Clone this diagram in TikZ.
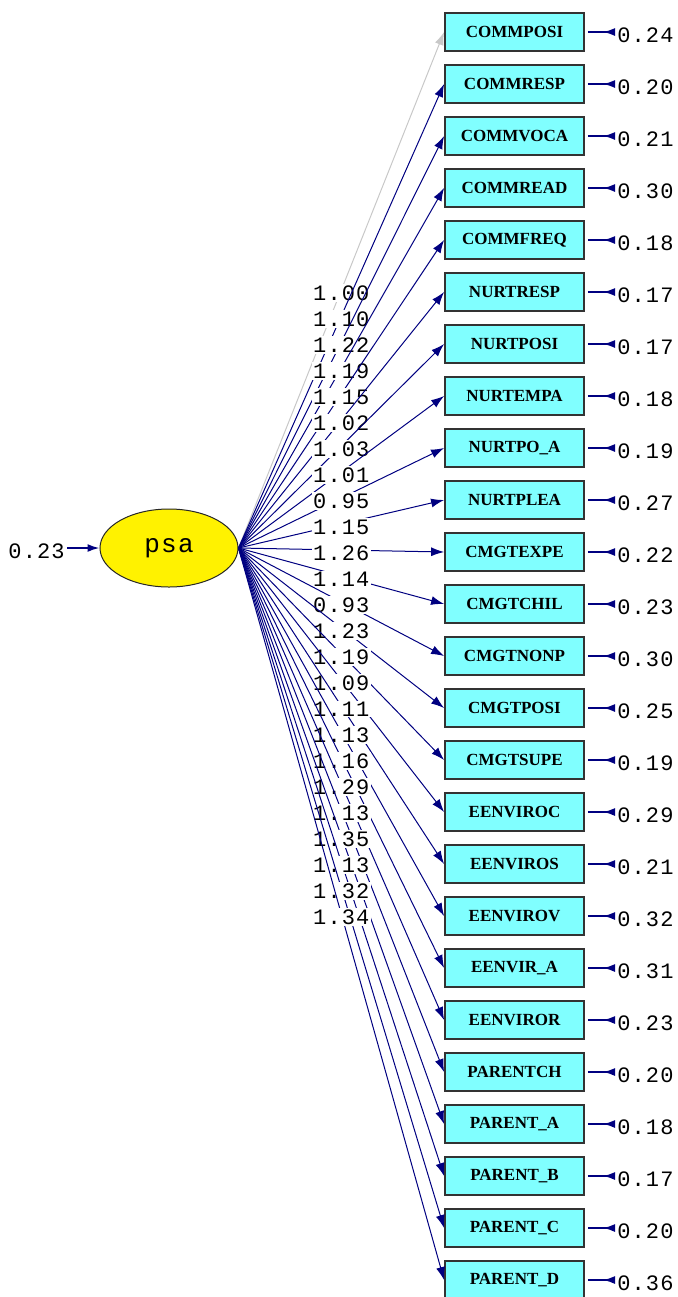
\documentclass[tikz,border=0pt]{standalone}
\usepackage{fontspec}
\usetikzlibrary{shapes.geometric,arrows.meta}
\newfontfamily\lisnum[LetterSpace=5]{Liberation Mono}
\newfontfamily\lisbox{Liberation Serif}
\definecolor{lisnavy}{HTML}{000080}
\definecolor{liscyan}{HTML}{80FFFF}
\definecolor{lisgray}{HTML}{C8C8C8}

\begin{document}
\begin{tikzpicture}[
x=0.5pt,y=-0.5pt,
latent/.style={
  ellipse,
  draw=black!85,
  fill=yellow,
  line width=0.5pt,
  minimum width=69pt,
  minimum height=39pt,
  inner sep=0pt,
  font=\lisnum\fontsize{13}{15}\selectfont
  },
obs/.style={
  draw=black!80,
  fill=liscyan,
  line width=0.9pt,
  minimum width=69.5pt,
  minimum height=19pt,
  inner sep=0pt,
  font=\lisbox\bfseries\fontsize{8.5}{10}\selectfont
  },
num/.style={
  inner sep=0pt,
  font=\lisnum\fontsize{11}{13}\selectfont
  },
coef/.style={
  num,
  fill=white,
  inner sep=0.6pt,
  yshift=-1.5pt
  },
load/.style={line width=0.5pt},
err/.style={draw=lisnavy, line width=0.9pt},
>={Latex[length=6.5pt,width=4.5pt]}
]
\useasboundingbox (0,0) rectangle (677,1297);

% latent variable and its error
\node[latent] (psa) at (169,548) {psa};
\node[num, anchor=east] (epsa) at (65,551.5) {0.23};
\draw[err, -{Latex[length=6pt,width=4pt]}, shorten <=1pt] (epsa.east |- psa.west) -- (psa.west);

% indicators with error variances
\foreach \nm/\er [count=\i from 0] in {
  COMMPOSI/0.24, COMMRESP/0.20, COMMVOCA/0.21, COMMREAD/0.30, COMMFREQ/0.18,
  NURTRESP/0.17, NURTPOSI/0.17, NURTEMPA/0.18, NURTPO\_A/0.19, NURTPLEA/0.27,
  CMGTEXPE/0.22, CMGTCHIL/0.23, CMGTNONP/0.30, CMGTPOSI/0.25, CMGTSUPE/0.19,
  EENVIROC/0.29, EENVIROS/0.21, EENVIROV/0.32, EENVIR\_A/0.31, EENVIROR/0.23,
  PARENTCH/0.20, PARENT\_A/0.18, PARENT\_B/0.17, PARENT\_C/0.20, PARENT\_D/0.36}
{
  \node[obs] (b\i) at ({514.5},{32+52*\i}) {\nm};
  \node[num, anchor=west] (e\i) at ({617},{35.5+52*\i}) {\er};
  \draw[err, -{Latex[length=6pt,width=4pt,reversed]}, shorten <=1.5pt, shorten >=1pt]
    (b\i.east) -- (b\i.east -| e\i.west);
}

% loadings
\foreach \ld [count=\i from 0] in {1.00,1.10,1.22,1.19,1.15,1.02,1.03,1.01,0.95,1.15,
  1.26,1.14,0.93,1.23,1.19,1.09,1.11,1.13,1.16,1.29,1.13,1.35,1.13,1.32,1.34}
{
  \ifnum\i=0 \def\lc{lisgray}\else \def\lc{lisnavy}\fi
  \draw[load, draw=\lc, ->] (psa.east) -- node[coef] {\ld} (b\i.west);
}

\end{tikzpicture}
\end{document}
